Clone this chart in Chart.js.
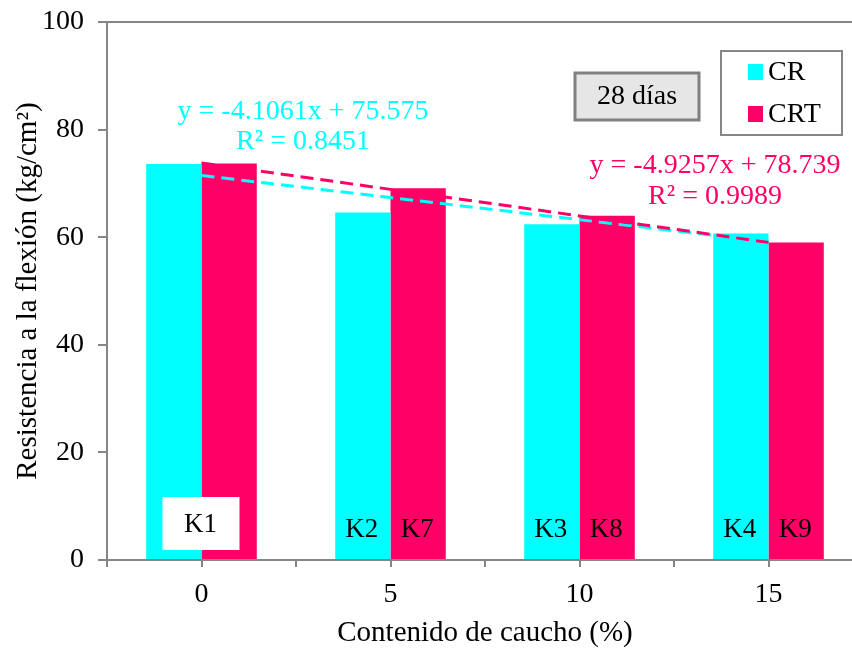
<!DOCTYPE html>
<html>
<head>
<meta charset="utf-8">
<script src="https://cdn.jsdelivr.net/npm/chart.js@4.4.1/dist/chart.umd.min.js"></script>
<style>
  html, body { margin: 0; padding: 0; overflow: hidden; background: #ffffff; }
  #wrap { width: 866px; height: 649px; }
</style>
</head>
<body>
<div id="wrap"><canvas id="c" width="866" height="649"></canvas></div>
<script>
// Rubber content (%) on the category axis
const categories = ['0', '5', '10', '15'];
const seriesNames = ['CR', 'CRT'];
// Flexural strength at 28 days (kg/cm²)
const crValues  = [73.6, 64.6, 62.4, 60.7];
const crtValues = [73.7, 69.1, 64.0, 59.0];
// Mix codes written inside the bars
const groupCodes = ['K1', null, null, null];
const crCodes  = [null, 'K2', 'K3', 'K4'];
const crtCodes = [null, 'K7', 'K8', 'K9'];
// Linear trend lines (x = 1..4) as stated on the chart
const trendSlopes = [-4.1061, -4.9257];
const trendIntercepts = [75.575, 78.739];
const trendR2 = ['0.8451', '0.9989'];
const yTicks = [0, 20, 40, 60, 80, 100];

const COLORS = ['#00FFFF', '#FF0066'];
const AXIS = '#868686';
const FONT = '"Liberation Serif", "Times New Roman", serif';

function trendPoints(k) {
  return categories.map((_, i) => +(trendIntercepts[k] + trendSlopes[k] * (i + 1)).toFixed(3));
}
function equationText(k) {
  return 'y = ' + trendSlopes[k] + 'x + ' + trendIntercepts[k];
}

const annotations = {
  id: 'annotations',
  afterDatasetsDraw(chart) {
    const ctx = chart.ctx;
    ctx.save();
    ctx.font = '27px ' + FONT;
    ctx.fillStyle = '#000';
    ctx.textAlign = 'center';
    ctx.textBaseline = 'middle';
    const m0 = chart.getDatasetMeta(0), m1 = chart.getDatasetMeta(1);
    const xs = chart.scales.x;
    categories.forEach((c, i) => {
      if (groupCodes[i]) {
        const cx = xs.getPixelForValue(i);
        ctx.fillStyle = '#fff';
        ctx.fillRect(cx - 39, 497, 77, 53);
        ctx.fillStyle = '#000';
        ctx.fillText(groupCodes[i], cx - 1, 525);
      }
      if (crCodes[i]) ctx.fillText(crCodes[i], m0.data[i].x - 1, 530);
      if (crtCodes[i]) ctx.fillText(crtCodes[i], m1.data[i].x - 1, 530);
    });
    ctx.restore();
  },
  afterDraw(chart) {
    const ctx = chart.ctx;
    const xs = chart.scales.x;
    ctx.save();
    // tick marks at the category centres
    ctx.strokeStyle = AXIS;
    ctx.lineWidth = 2;
    categories.forEach((_, i) => {
      const px = Math.round(xs.getPixelForTick(i));
      ctx.beginPath();
      ctx.moveTo(px, xs.top);
      ctx.lineTo(px, xs.top + 7);
      ctx.stroke();
    });

    // trend equations
    ctx.textAlign = 'center';
    ctx.textBaseline = 'middle';
    ctx.font = '28px ' + FONT;
    ctx.fillStyle = COLORS[0];
    ctx.fillText(equationText(0), 303, 112);
    ctx.fillText('R² = ' + trendR2[0], 303, 142);
    ctx.fillStyle = COLORS[1];
    ctx.fillText(equationText(1), 715, 166);
    ctx.fillText('R² = ' + trendR2[1], 715, 197);

    // curing age box
    ctx.fillStyle = '#e6e6e6';
    ctx.fillRect(575, 73, 124, 47);
    ctx.strokeStyle = '#808080';
    ctx.lineWidth = 3;
    ctx.strokeRect(575, 73, 124, 47);
    ctx.fillStyle = '#000';
    ctx.fillText('28 días', 637, 97);

    // legend
    ctx.fillStyle = '#fff';
    ctx.fillRect(721, 51, 121, 84);
    ctx.strokeStyle = AXIS;
    ctx.lineWidth = 2;
    ctx.strokeRect(721, 51, 121, 84);
    ctx.textAlign = 'left';
    ctx.font = '28px ' + FONT;
    seriesNames.forEach((name, k) => {
      const cy = 72 + k * 42;
      ctx.fillStyle = COLORS[k];
      ctx.fillRect(748, cy - 8, 15, 16);
      ctx.fillStyle = '#000';
      ctx.fillText(name, 768, cy + 1);
    });
    ctx.restore();
  }
};

new Chart(document.getElementById('c'), {
  data: {
    labels: categories,
    datasets: [
      { type: 'bar', label: seriesNames[0], data: crValues, backgroundColor: COLORS[0],
        borderWidth: 0, categoryPercentage: 0.585, barPercentage: 1, order: 2 },
      { type: 'bar', label: seriesNames[1], data: crtValues, backgroundColor: COLORS[1],
        borderWidth: 0, categoryPercentage: 0.585, barPercentage: 1, order: 2 },
      { type: 'line', label: 'Lineal (CR)', data: trendPoints(0), borderColor: COLORS[0],
        borderWidth: 3, borderDash: [13, 7], pointRadius: 0, fill: false, order: 1 },
      { type: 'line', label: 'Lineal (CRT)', data: trendPoints(1), borderColor: COLORS[1],
        borderWidth: 3, borderDash: [13, 7], pointRadius: 0, fill: false, order: 0 }
    ]
  },
  options: {
    responsive: false,
    animation: false,
    layout: { padding: { left: 0, right: 3, top: 22, bottom: 0 } },
    plugins: { legend: { display: false }, tooltip: { enabled: false } },
    scales: {
      x: {
        type: 'category',
        offset: true,
        afterFit: s => { s.height = 89; s.paddingLeft = 0; s.paddingRight = 0; },
        border: { color: AXIS, width: 2 },
        grid: { offset: true, drawOnChartArea: false, color: AXIS, tickColor: AXIS, tickLength: 7, lineWidth: 2 },
        ticks: { color: '#000', font: { family: FONT, size: 28 }, padding: 11, maxRotation: 0 },
        title: { display: true, text: 'Contenido de caucho (%)', color: '#000',
                 font: { family: FONT, size: 29, lineHeight: 1 }, padding: { top: 0, bottom: 1 } }
      },
      y: {
        min: 0, max: 100,
        afterFit: s => { s.width = 107; s.paddingTop = 0; s.paddingBottom = 0; },
        afterBuildTicks: s => { s.ticks = yTicks.map(v => ({ value: v })); },
        border: { color: AXIS, width: 2 },
        grid: {
          color: c => (c.tick && c.tick.value === 100 ? AXIS : 'rgba(0,0,0,0)'),
          tickColor: AXIS, tickLength: 9, lineWidth: 2
        },
        ticks: { color: '#000', font: { family: FONT, size: 28 }, padding: 14 },
        title: { display: true, text: 'Resistencia a la flexión (kg/cm²)', color: '#000',
                 font: { family: FONT, size: 29 }, padding: { top: 11, bottom: 0 } }
      }
    }
  },
  plugins: [annotations]
});
</script>
</body>
</html>
